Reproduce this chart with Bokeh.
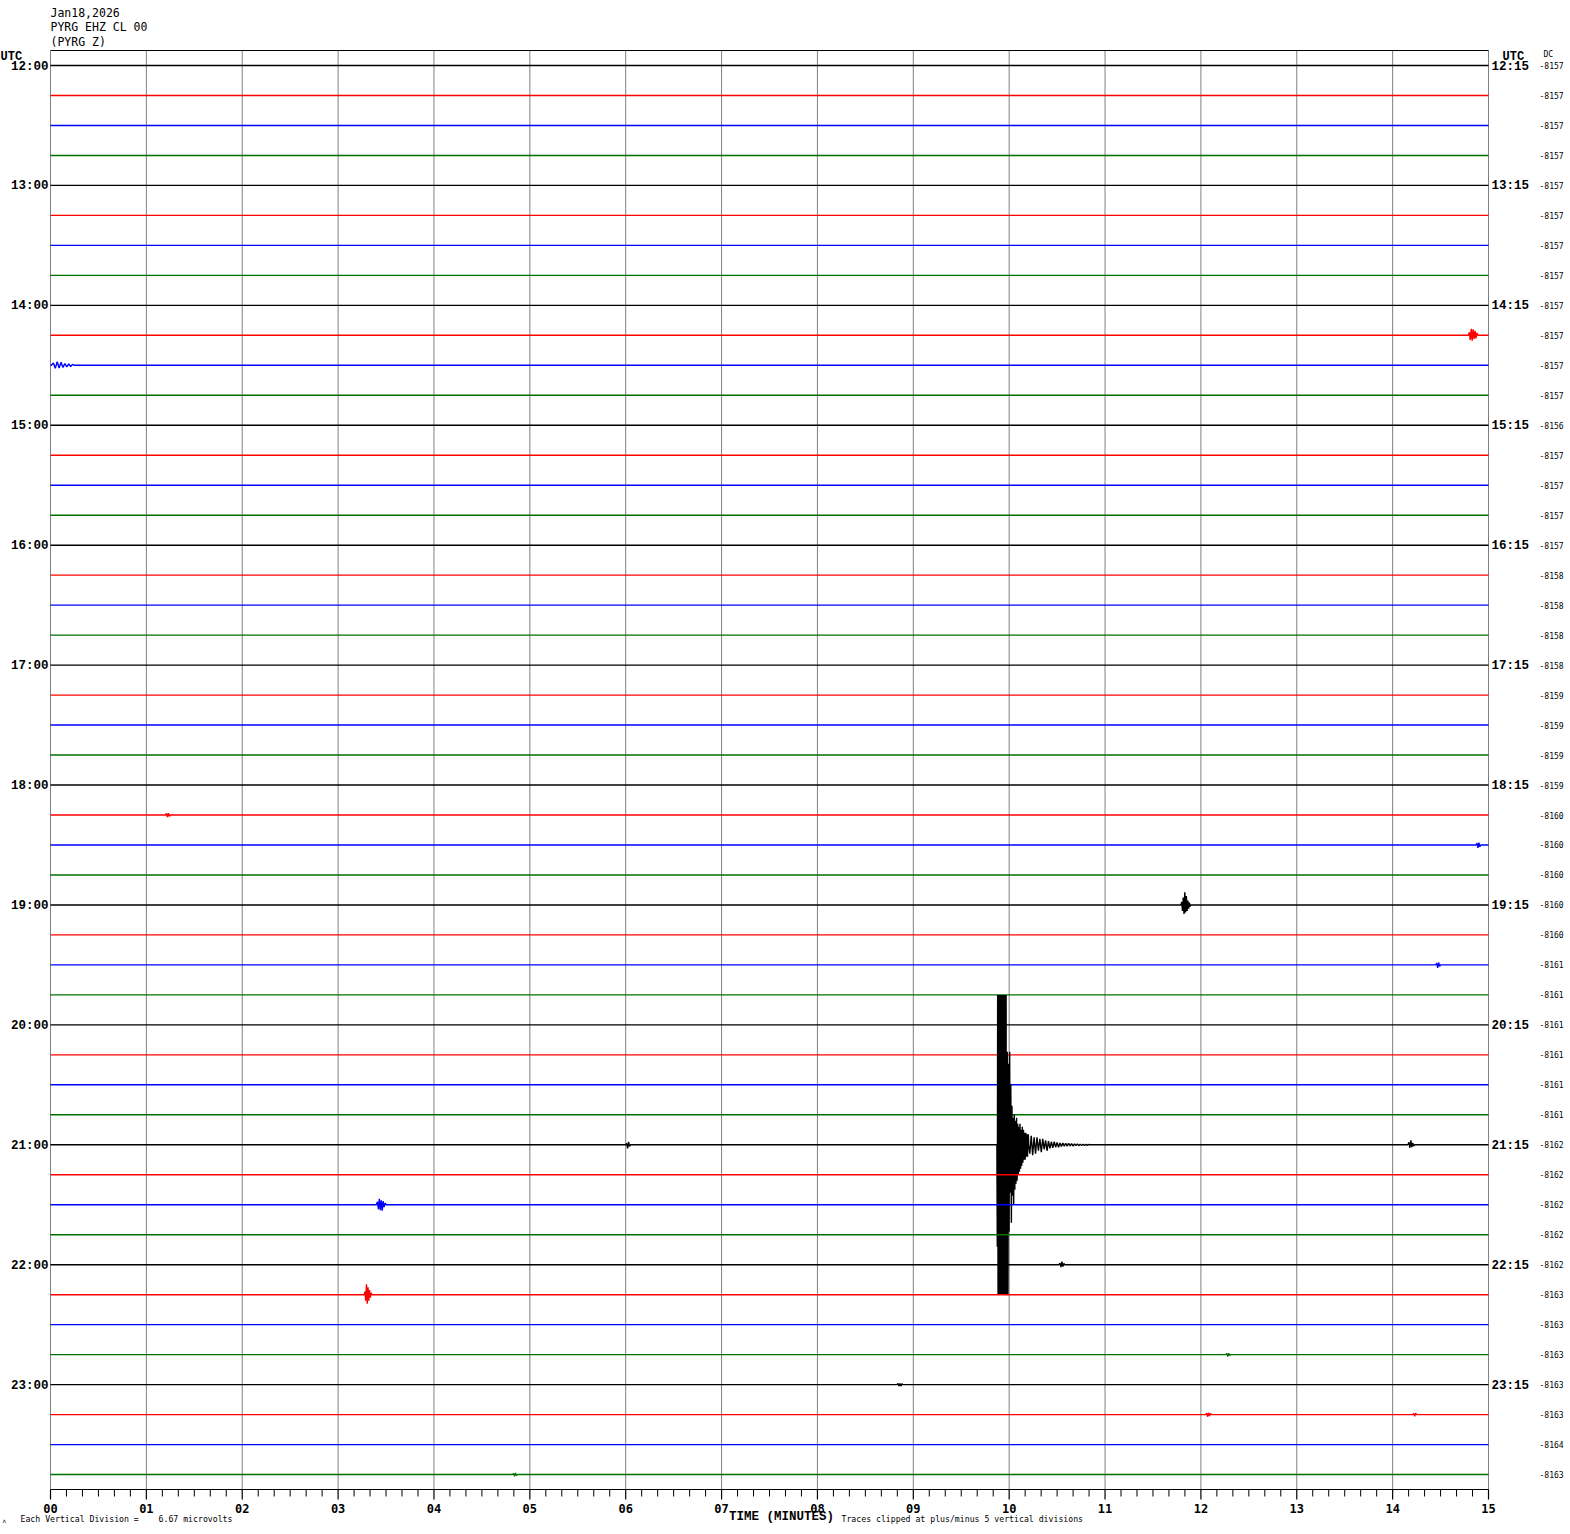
from bokeh.plotting import figure
from bokeh.core.properties import value
from bokeh.embed import file_html
from bokeh.resources import INLINE

# ---------------- data ----------------
header_lines = ["Jan18,2026", "PYRG EHZ CL 00", "(PYRG Z)"]
hours = ["12", "13", "14", "15", "16", "17", "18", "19", "20", "21", "22", "23"]
left_labels = [h + ":00" for h in hours]
right_labels = [h + ":15" for h in hours]
trace_colors = ["#000000", "#ff0000", "#0000ff", "#007000"]
dc_values = [-8157, -8157, -8157, -8157, -8157, -8157, -8157, -8157,
             -8157, -8157, -8157, -8157, -8156, -8157, -8157, -8157,
             -8157, -8158, -8158, -8158, -8158, -8159, -8159, -8159,
             -8159, -8160, -8160, -8160, -8160, -8160, -8161, -8161,
             -8161, -8161, -8161, -8161, -8162, -8162, -8162, -8162,
             -8162, -8163, -8163, -8163, -8163, -8163, -8164, -8163]
tick_minutes = list(range(16))
tick_labels = ["%02d" % m for m in tick_minutes]
minor_per_minute = 6
x_title = "TIME (MINUTES)"
note_left = "Each Vertical Division =\u00a0\u00a0\u00a0\u00a06.67 microvolts"
note_right = "Traces clipped at plus/minus 5 vertical divisions"
clip_divisions = 5

# events: trace index, start minute, sample step (min), amplitudes (vertical divisions)
event_trace = [9, 10, 25, 26, 28, 30, 36, 36, 36, 36, 36, 38, 40, 41, 43, 44, 45, 45, 47]
event_start = [14.80, 0.03, 1.21, 14.88, 11.80, 14.46, 6.01, 9.876, 9.975, 10.20, 14.17,
               3.41, 10.53, 3.28, 12.27, 8.84, 12.06, 14.22, 4.83]
event_step = [0.01, 0.02, 0.01, 0.01, 0.008, 0.01, 0.01, 0.004, 0.006, 0.015, 0.01,
              0.01, 0.01, 0.008, 0.01, 0.01, 0.01, 0.01, 0.01]
event_amps = [
    [0.1, -0.15, 0.22, -0.18, 0.2, -0.12, 0.15, -0.1, 0.08],
    [0.08, -0.1, 0.12, -0.09, 0.1, -0.07, 0.06, -0.05, 0.05, -0.04, 0.03],
    [0.05, -0.07, 0.06, -0.04],
    [0.06, -0.1, 0.08, -0.06],
    [0.1, -0.2, 0.25, -0.3, 0.42, -0.25, 0.3, -0.2, 0.15, -0.12, 0.08, -0.05],
    [0.06, -0.1, 0.08, -0.05],
    [0.05, -0.12, 0.1, -0.05],
    [-3.4, 5, -5, 5, -5, 5, -5, 5, -5, 5, -5, 5, -5, 5, -5, 5, -5, 5, -5, 5, -5, 5, -5, 5, -5],
    [-5, 3.1, -5, 2.7, -2.9, 3.1, -1.6, 2.0, -2.6, 1.3, -1.7, 0.9, -2.0, 1.0, -1.5, 0.8,
     -1.3, 0.9, -1.2, 0.7, -1.0, 0.6, -0.9, 0.7, -0.8, 0.5, -0.7, 0.6, -0.6, 0.5, -0.5,
     0.4, -0.5, 0.4, -0.4, 0.35, -0.4, 0.3],
    [0.35, -0.3, 0.3, -0.35, 0.25, -0.3, 0.25, -0.2, 0.2, -0.25, 0.2, -0.15, 0.15, -0.2,
     0.12, -0.12, 0.1, -0.1, 0.1, -0.08, 0.08, -0.08, 0.06, -0.06, 0.06, -0.05, 0.05,
     -0.05, 0.05, -0.04, 0.04, -0.04, 0.03, -0.03, 0.03, -0.03, 0.02, -0.02, 0.02, -0.02,
     0.02, -0.02, 0.01, 0.0],
    [0.08, -0.1, 0.15, -0.08, 0.06, -0.04],
    [0.1, -0.15, 0.2, -0.18, 0.15, -0.2, 0.12, -0.08, 0.05],
    [0.05, -0.08, 0.1, -0.06, 0.04],
    [0.1, -0.2, 0.35, -0.3, 0.25, -0.2, 0.15, -0.1, 0.06],
    [0.04, -0.06, 0.05, -0.03],
    [0.04, -0.05, 0.04, -0.05, 0.03],
    [0.05, -0.07, 0.06, -0.05, 0.04],
    [0.04, -0.06, 0.05],
    [0.04, -0.06, 0.05, -0.03],
]

n_traces = len(dc_values)

# ---------------- geometry (screen px -> data) ----------------
W, H = 1568, 1532
X0, PX_X = 50.0, 95.867     # left edge of the time window, px per minute
Y0, PX_Y = 65.0, 29.98      # first trace, px per trace (= one vertical division)


def dx(px):
    return (px - X0) / PX_X


def dy(py):
    return -(py - Y0) / PX_Y


# ---------------- build traces ----------------
xs, ys, cols = [], [], []
for i in range(n_traces):
    pts = [(0.0, 0.0), (15.0, 0.0)]
    for tr, st, stp, amps in zip(event_trace, event_start, event_step, event_amps):
        if tr == i:
            pts.append((st - stp, 0.0))
            for k, a in enumerate(amps):
                pts.append((st + k * stp, a))
            pts.append((st + len(amps) * stp, 0.0))
    pts.sort(key=lambda q: q[0])
    xs.append([q[0] for q in pts])
    ys.append([-i + max(-clip_divisions, min(clip_divisions, q[1])) for q in pts])
    cols.append(trace_colors[i % 4])

p = figure(width=W, height=H, x_range=(dx(0), dx(W)), y_range=(dy(H), dy(0)),
           output_backend="svg", toolbar_location=None,
           x_axis_location=None, y_axis_location=None,
           min_border=0, min_border_left=0, min_border_right=0,
           min_border_top=0, min_border_bottom=0)
p.background_fill_color = "white"
p.border_fill_color = "white"
p.outline_line_color = None
p.xgrid.visible = False
p.ygrid.visible = False

top_y = dy(50)
axis_y = dy(1489)

# minute grid lines
p.segment(x0=tick_minutes, y0=[top_y] * 16, x1=tick_minutes, y1=[axis_y] * 16,
          line_color="#808080", line_width=1)
# top border and time axis line
p.segment(x0=[0], y0=[top_y], x1=[15], y1=[top_y], line_color="black", line_width=1)
p.segment(x0=[0], y0=[axis_y], x1=[15], y1=[axis_y], line_color="black", line_width=1.2)
# ticks
p.segment(x0=tick_minutes, y0=[axis_y] * 16, x1=tick_minutes, y1=[dy(1499)] * 16,
          line_color="black", line_width=1.2)
minor = [m + k / minor_per_minute for m in tick_minutes[:-1] for k in range(1, minor_per_minute)]
p.segment(x0=minor, y0=[axis_y] * len(minor), x1=minor, y1=[dy(1496)] * len(minor),
          line_color="black", line_width=1)
p.text(x=tick_minutes, y=[dy(1508)] * 16, text=tick_labels, text_align="center",
       text_baseline="middle", text_font=value("DejaVu Sans Mono"), text_font_style="bold",
       text_font_size="12px", text_color="black")

# traces
p.multi_line(xs=xs, ys=ys, line_color=cols, line_width=1.4)

# hour labels
hr_idx = list(range(0, n_traces, 4))
p.text(x=[dx(48)] * len(hr_idx), y=[-i for i in hr_idx], text=left_labels, text_align="right",
       text_baseline="middle", text_font=value("Liberation Mono"), text_font_style="bold",
       text_font_size="12.5px", text_color="black", y_offset=1)
p.text(x=[dx(1491)] * len(hr_idx), y=[-i for i in hr_idx], text=right_labels, text_align="left",
       text_baseline="middle", text_font=value("Liberation Mono"), text_font_style="bold",
       text_font_size="12.5px", text_color="black", y_offset=1)
# DC values
p.text(x=[dx(1539)] * n_traces, y=[-i for i in range(n_traces)],
       text=[str(v) for v in dc_values], text_align="left", text_baseline="middle",
       text_font=value("DejaVu Sans Mono"), text_font_size="8px", text_color="black")

# other texts
p.text(x=[dx(0), dx(1502)], y=[dy(56), dy(56)], text=["UTC", "UTC"], text_align="left",
       text_baseline="middle", text_font=value("Liberation Mono"), text_font_style="bold",
       text_font_size="12px", text_color="black")
p.text(x=[dx(1543)], y=[dy(54)], text=["DC"], text_align="left", text_baseline="middle",
       text_font=value("DejaVu Sans Mono"), text_font_size="8px", text_color="black")
p.text(x=[dx(50)] * 3, y=[dy(12), dy(26), dy(41)], text=header_lines, text_align="left",
       text_baseline="middle", text_font=value("DejaVu Sans Mono"), text_font_size="11.5px",
       text_color="black")
p.text(x=[dx(781)], y=[dy(1516)], text=[x_title], text_align="center", text_baseline="middle",
       text_font=value("Liberation Mono"), text_font_style="bold", text_font_size="12.5px",
       text_color="black")
p.text(x=[dx(20), dx(841)], y=[dy(1518), dy(1518)], text=[note_left, note_right],
       text_align="left", text_baseline="middle", text_font=value("DejaVu Sans Mono"),
       text_font_size="8.2px", text_color="black")
p.text(x=[dx(2)], y=[dy(1520)], text=["ʌ"], text_align="left", text_baseline="middle",
       text_font=value("DejaVu Sans"), text_font_size="6px", text_color="black")

open("out.html", "w").write(file_html(p, INLINE))
